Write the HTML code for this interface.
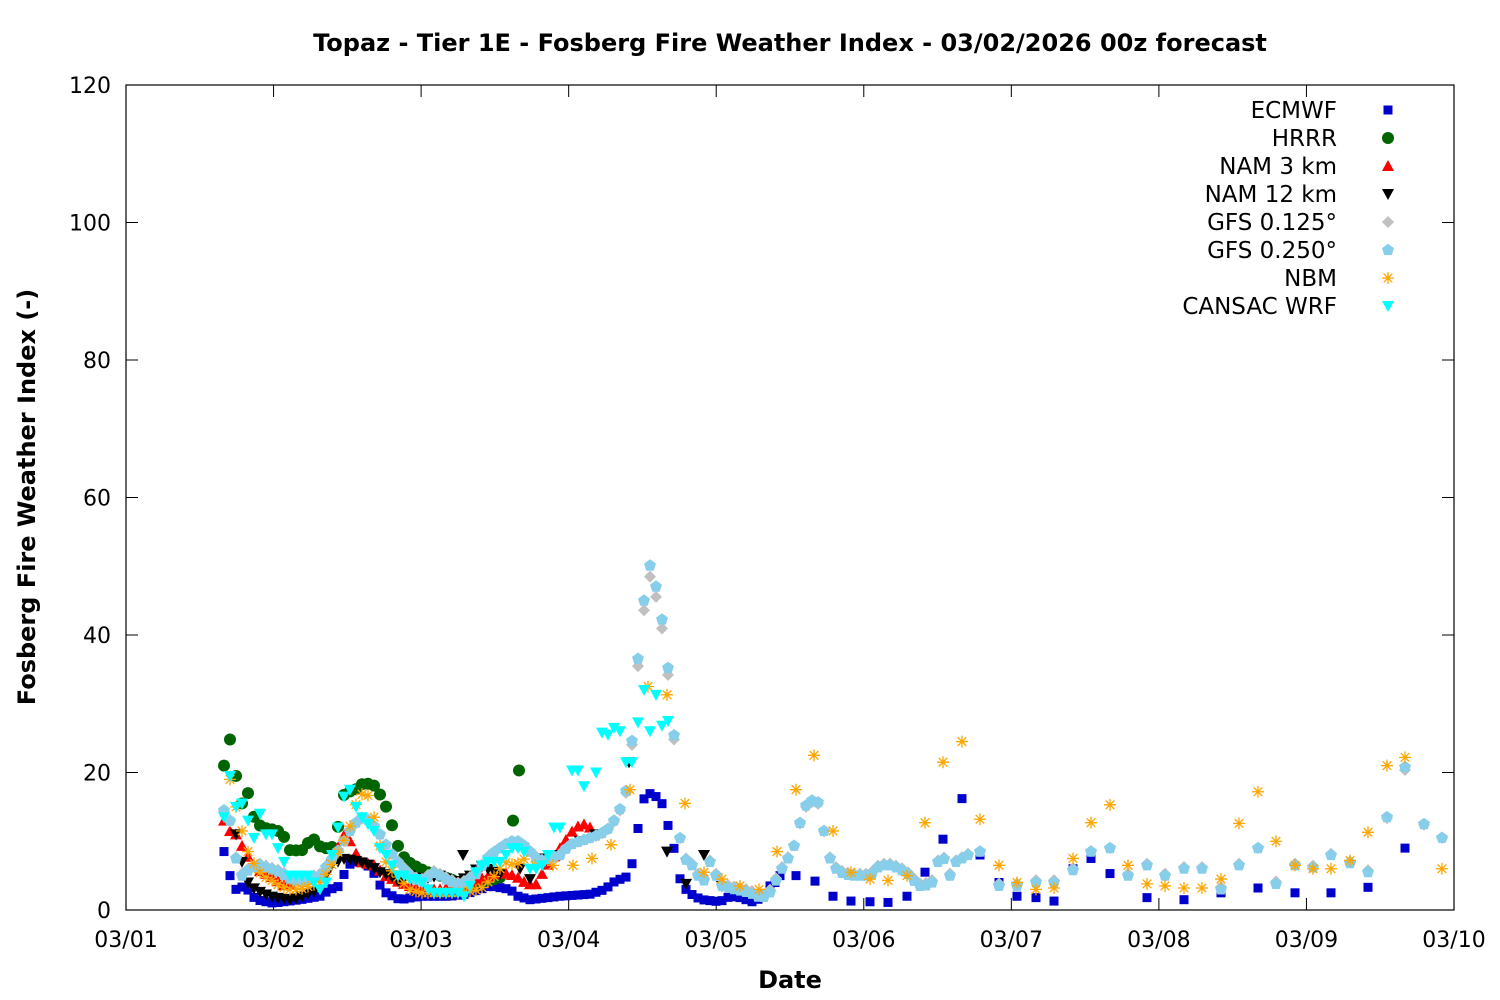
<!DOCTYPE html>
<html><head><meta charset="utf-8"><style>
body{margin:0;background:#fff;}
svg{display:block;font-family:"DejaVu Sans","Liberation Sans",sans-serif;}
</style></head><body>
<svg id="s" width="1500" height="1000" xmlns="http://www.w3.org/2000/svg">
<rect width="1500" height="1000" fill="#fff"/>
<text x="790" y="51" font-size="24" font-weight="bold" text-anchor="middle">Topaz - Tier 1E - Fosberg Fire Weather Index - 03/02/2026 00z forecast</text>
<text x="790" y="988" font-size="24" font-weight="bold" text-anchor="middle">Date</text>
<text transform="translate(35,497) rotate(-90)" font-size="24" font-weight="bold" text-anchor="middle">Fosberg Fire Weather Index (-)</text>
<g id="ax"></g>
<g id="pts"></g>
<rect x="126" y="85" width="1328" height="825" fill="none" stroke="#000" stroke-width="1.2"/>
<g id="leg" font-size="23" text-anchor="end"></g>
</svg>
<script>
const NS="http://www.w3.org/2000/svg";
const ax=document.getElementById('ax'),P=document.getElementById('pts'),L=document.getElementById('leg');
function el(p,t,a,txt){const e=document.createElementNS(NS,t);for(const k in a)e.setAttribute(k,a[k]);if(txt!==undefined)e.textContent=txt;p.appendChild(e);return e;}
const Y=v=>910-v*6.875;
for(let i=0;i<=6;i++){const y=Y(i*20);el(ax,'line',{x1:126,x2:138,y1:y,y2:y,stroke:'#000'});el(ax,'line',{x1:1442,x2:1454,y1:y,y2:y,stroke:'#000'});
el(ax,'text',{x:111,y:y+8,'font-size':22,'text-anchor':'end'},String(i*20));}
const dl=['03/01','03/02','03/03','03/04','03/05','03/06','03/07','03/08','03/09','03/10'];
dl.forEach((d,i)=>{const x=126+i*1328/9;el(ax,'line',{x1:x,x2:x,y1:898,y2:910,stroke:'#000'});el(ax,'line',{x1:x,x2:x,y1:85,y2:97,stroke:'#000'});
el(ax,'text',{x:x,y:947,'font-size':22,'text-anchor':'middle'},d);});
function curve(k,x0,x1,st){const o=[];for(let x=x0;x<=x1+0.01;x+=st){let v=k[0][1];for(let i=0;i<k.length-1;i++){if(x>=k[i][0]&&x<=k[i+1][0]){const t=(x-k[i][0])/(k[i+1][0]-k[i][0]);v=k[i][1]+t*(k[i+1][1]-k[i][1]);break;}if(x>k[k.length-1][0])v=k[k.length-1][1];}o.push([x,v]);}return o;}
const M={
sq:(x,y,c)=>el(P,'rect',{x:x-4.5,y:y-4.5,width:9,height:9,fill:c}),
ci:(x,y,c)=>el(P,'circle',{cx:x,cy:y,r:6,fill:c}),
tu:(x,y,c)=>el(P,'path',{d:`M${x-6},${y+5}L${x+6},${y+5}L${x},${y-6}Z`,fill:c}),
td:(x,y,c)=>el(P,'path',{d:`M${x-6},${y-5}L${x+6},${y-5}L${x},${y+6}Z`,fill:c}),
di:(x,y,c)=>el(P,'path',{d:`M${x},${y-6}L${x+6},${y}L${x},${y+6}L${x-6},${y}Z`,fill:c}),
pe:(x,y,c)=>{let d='';for(let i=0;i<5;i++){const a=-Math.PI/2+i*2*Math.PI/5;d+=(i?'L':'M')+(x+6.3*Math.cos(a)).toFixed(1)+','+(y+6.3*Math.sin(a)).toFixed(1);}el(P,'path',{d:d+'Z',fill:c});},
as:(x,y,c)=>el(P,'path',{d:`M${x-6},${y}L${x+6},${y}M${x},${y-6}L${x},${y+6}M${x-4.3},${y-4.3}L${x+4.3},${y+4.3}M${x-4.3},${y+4.3}L${x+4.3},${y-4.3}`,stroke:c,'stroke-width':1.3,fill:'none'})};
function draw(pts,m,c){pts.forEach(p=>M[m](p[0],Y(p[1]),c));}
// series data
const ecD=curve([[224,8.5],[230,5],[236,3],[245,3.5],[250,2.5],[256,1.5],[273,1],[300,1.5],[320,2],[330,3],[340,3.5],[346,6],[352,7],[362,7],[372,6],[378,4],[386,2.5],[400,1.5],[420,2],[450,2],[465,2.3],[480,3],[490,3.5],[510,3],[518,2],[530,1.5],[560,2],[590,2.3],[605,3],[615,4.2],[630,5],[636,10.2],[643,16],[649,17],[656,16.5],[661,16],[667,12.8],[673,9.8],[679,4.8],[686,3],[694,2],[702,1.5],[720,1.2],[730,2],[740,1.8],[752,1.2],[762,1.8],[770,3.5]],224,770,6);
const ecS=[[775,4],[780,5],[796,5],[815,4.2],[833,2],[851,1.3],[870,1.2],[888,1.1],[907,2],[925,5.5],[943,10.3],[962,16.2],[980,8],[999,4],[1017,2],[1036,1.8],[1054,1.3],[1073,6],[1091,7.5],[1110,5.3],[1147,1.8],[1184,1.5],[1221,2.5],[1258,3.2],[1295,2.5],[1331,2.5],[1368,3.3],[1405,9]];
const hr=curve([[224,21],[230,24.8],[236,19.5],[242,15.5],[248,17],[255,13],[262,12],[270,11.8],[278,11.5],[285,10.5],[292,8],[298,9],[305,8.5],[311,11],[317,9.5],[323,9],[330,9],[336,9.5],[341,16],[347,17.5],[353,17],[360,18.3],[366,18.3],[372,18.5],[378,17.3],[384,15.8],[390,13.5],[396,10],[402,8],[408,7],[414,6.5],[420,6],[428,5.5],[440,5],[460,4],[480,4],[495,4.5],[505,5]],224,505,6).concat([[513,13],[519,20.3]]);
const n3=curve([[224,13],[230,11.5],[236,11],[245,8.5],[255,6],[270,5],[285,3.5],[300,4.5],[320,5],[335,8],[343,11],[350,10],[360,7],[375,6.5],[385,5],[400,4],[420,3],[440,3],[460,3.5],[480,4.5],[500,5.5],[515,5],[525,4],[535,3.5],[545,6],[555,8],[565,10],[575,12],[585,12.5],[595,11.5]],224,595,6);
const n12=curve([[236,11],[242,7],[248,4],[255,3],[262,2.5],[270,2],[280,1.7],[290,1.5],[300,1.8],[310,2.5],[320,3],[330,6.5],[345,7.5],[360,7],[370,6.5],[380,5.5],[390,5],[400,4],[410,5],[420,4.5],[440,5],[455,4],[470,5],[480,6.5],[495,5.5],[505,5]],236,505,6).concat([[463,8],[520,6],[530,4.5],[545,7.5],[560,8],[580,10],[595,11],[629,21.5],[667,8.5],[686,3.8],[704,8],[722,3.5]]);
const gK=[[224,14.5],[230,13],[236,7.5],[242,5],[250,6],[260,6.5],[270,6],[280,5.5],[290,4.5],[300,4],[310,4.5],[320,5],[330,7],[340,9],[350,11.5],[360,13.5],[370,13],[380,11],[390,8.5],[400,6.5],[410,5],[420,4],[435,5.5],[445,4.5],[460,3.5],[475,5],[490,8],[500,9],[510,10],[520,10],[530,8.5],[540,7],[550,7.5],[560,8],[570,9.5],[580,10],[590,10.5],[600,11],[610,12],[618,14],[624,16],[630,20],[636,33.8],[642,42],[648,51],[654,48.3],[660,44.5],[667,36.6],[673,28.3],[679,11],[686,7.3],[692,6.5],[698,5],[704,4.3],[710,7],[716,5],[722,3.5],[735,3],[750,2.5],[760,1.8],[768,2],[775,4],[782,6],[790,8],[796,10],[802,14],[808,15.8],[814,16],[820,15.5],[826,9.5],[832,6.5],[840,5.5],[850,5],[860,5],[870,5],[880,6.5],[890,6.5],[900,6],[910,5],[918,3.5],[925,3.5],[932,4],[938,7],[945,7.5],[950,5],[956,7],[962,7.5],[968,8]];
const gD=curve(gK,224,968,6);
const gS=[[980,8.5],[999,3.5],[1017,3.5],[1036,4],[1054,4],[1073,5.8],[1091,8.5],[1110,9],[1128,5],[1147,6.5],[1165,5],[1184,6],[1202,6],[1221,3],[1239,6.5],[1258,9],[1276,3.8],[1295,6.5],[1313,6.2],[1331,8],[1350,6.8],[1368,5.5],[1387,13.5],[1405,20.8],[1424,12.5],[1442,10.5]];
const gfs1=gD.concat(gS).map(p=>[p[0],p[1]*0.96+(p[1]>8?0.4:0.5)]);
const gfs2=gD.concat(gS);
const nbm=curve([[230,19],[236,15],[242,11.5],[248,8.5],[255,6.5],[262,5],[270,4.5],[280,3.5],[290,3],[300,3],[310,3.5],[320,4],[330,6],[340,9],[347,11],[352,13],[358,16.5],[364,17],[370,16.5],[376,12],[382,8],[390,6],[400,4.5],[410,3],[420,2.5],[440,2.5],[460,2.5],[480,3],[495,5],[505,7],[515,6.5],[525,7.5]],230,525,6).concat([[535,6.5],[553,6.5],[573,6.5],[592,7.5],[611,9.5],[630,17.5],[648,32.5],[667,31.3],[685,15.5],[704,5.5],[722,4.5],[740,3.5],[759,3],[777,8.5],[796,17.5],[814,22.5],[833,11.5],[851,5.5],[870,4.5],[888,4.3],[907,5],[925,12.7],[943,21.5],[962,24.5],[980,13.2],[999,6.5],[1017,4],[1036,3],[1054,3.2],[1073,7.5],[1091,12.7],[1110,15.3],[1128,6.5],[1147,3.8],[1165,3.5],[1184,3.2],[1202,3.2],[1221,4.5],[1239,12.6],[1258,17.2],[1276,10],[1295,6.5],[1313,6],[1331,6],[1350,7.2],[1368,11.3],[1387,21],[1405,22.2],[1442,6]]);
const cv=[13.5,19.5,15,15.5,13,10.5,14,11,11,9,7,5,5,5,5,4,3,4,8,12,16.5,17.5,15,13.5,12.5,11.5,9,8,6.5,5,5,4.5,4.5,4,3,2.5,2.5,2.5,2.5,2.5,2,3.5,5.5,6.5,7,7,7,8,9,9,8.5,6,6,6.5,8,12,12,null,20.3,20.3,18,null,20,25.8,25.5,26.5,26,21.5,21.5,27.3,32,26,31.3,26.8,27.5];
const cans=[];cv.forEach((v,i)=>{if(v!==null)cans.push([224+i*6,v]);});
draw(ecD.concat(ecS),'sq','#0000cc');
draw(hr,'ci','#006400');
draw(n3,'tu','#ff0000');
draw(n12,'td','#000000');
draw(gfs1,'di','#c0c0c0');
draw(gfs2,'pe','#87ceeb');
draw(nbm,'as','#ffa500');
draw(cans,'td','#00ffff');
// legend
const lg=[['ECMWF','sq','#0000cc'],['HRRR','ci','#006400'],['NAM 3 km','tu','#ff0000'],['NAM 12 km','td','#000000'],['GFS 0.125°','di','#c0c0c0'],['GFS 0.250°','pe','#87ceeb'],['NBM','as','#ffa500'],['CANSAC WRF','td','#00ffff']];
lg.forEach((l,i)=>{const y=110+i*28;el(L,'text',{x:1337,y:y+8},l[0]);M[l[1]](1388,y,l[2]);});
</script>
</body></html>
